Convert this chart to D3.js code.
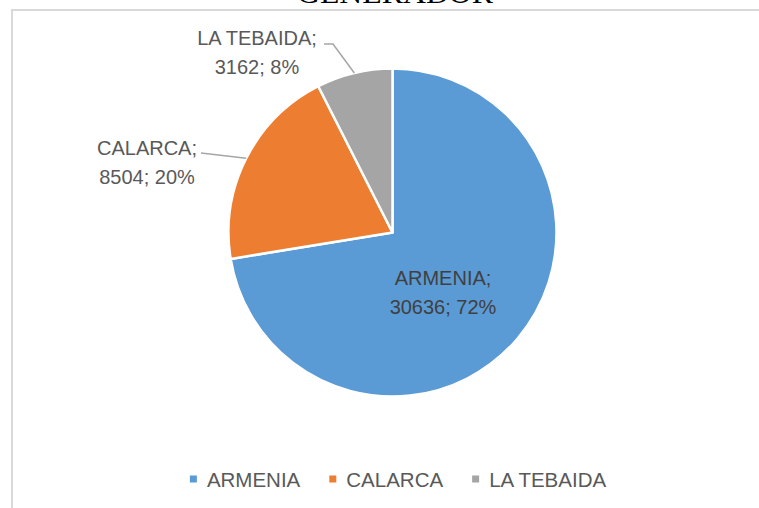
<!DOCTYPE html>
<html>
<head>
<meta charset="utf-8">
<script src="https://cdn.jsdelivr.net/npm/d3@7"></script>
<style>
  html, body { margin: 0; padding: 0; background: #ffffff; }
  svg { display: block; }
  text { font-family: "Liberation Sans", Arial, sans-serif; }
</style>
</head>
<body>
<svg id="chart" width="759" height="508"></svg>
<script>
// data
const categories = ['ARMENIA', 'CALARCA', 'LA TEBAIDA'];
const values = [30636, 8504, 3162];
const percentLabels = ['72%', '20%', '8%'];
const colors = ['#5B9BD5', '#ED7D31', '#A5A5A5'];
const title = 'GENERADOR';

const width = 759;
const height = 508;
const cx = 392.5;
const cy = 232.5;
const radius = 164;
const textColor = '#595959';

const svg = d3.select('#chart');

// frame of the chart area (clipped by the window on right/bottom)
svg.append('rect')
  .attr('x', 12)
  .attr('y', 10)
  .attr('width', 800)
  .attr('height', 600)
  .attr('fill', '#ffffff')
  .attr('stroke', '#D9D9D9')
  .attr('stroke-width', 2);

// title, mostly cut off above the window
svg.append('text')
  .attr('x', 395)
  .attr('y', 3)
  .attr('text-anchor', 'middle')
  .attr('textLength', 196)
  .attr('lengthAdjust', 'spacingAndGlyphs')
  .style('font-family', '"Liberation Serif", "Times New Roman", serif')
  .style('font-size', '30px')
  .attr('fill', '#000000')
  .text(title);

const data = categories.map((c, i) => ({ name: c, value: values[i], pct: percentLabels[i], color: colors[i] }));

const pie = d3.pie()
  .value(d => d.value)
  .sort(null);

const arcs = pie(data);

const arc = d3.arc()
  .innerRadius(0)
  .outerRadius(radius);

const g = svg.append('g')
  .attr('transform', `translate(${cx},${cy})`);

g.selectAll('path')
  .data(arcs)
  .enter()
  .append('path')
  .attr('d', arc)
  .attr('fill', d => d.data.color)
  .attr('stroke', '#ffffff')
  .attr('stroke-width', 2.5)
  .attr('stroke-linejoin', 'round');

// label placement (relative to pie centre); leader lines go to the outer edge at mid-angle
const labelLayout = [
  { x: 50.5, y: 52.5, leader: null },
  { x: -245.5, y: -77.5, leader: [[-191.5, -79.5]] },
  { x: -135.5, y: -187.5, leader: [[-59.5, -188.5], [-68.5, -188.5]] }
];

const edgeArc = d3.arc()
  .innerRadius(radius)
  .outerRadius(radius);

arcs.forEach((a, i) => {
  const lay = labelLayout[i];
  if (lay.leader) {
    const start = edgeArc.centroid(a);
    const pts = [start].concat(lay.leader);
    g.append('path')
      .attr('d', d3.line()(pts))
      .attr('fill', 'none')
      .attr('stroke', '#A6A6A6')
      .attr('stroke-width', 1.5);
  }
  const t = g.append('text')
    .attr('text-anchor', 'middle')
    .attr('fill', i === 0 ? '#404040' : textColor)
    .style('font-size', '20px');
  t.append('tspan')
    .attr('x', lay.x)
    .attr('y', lay.y)
    .text(a.data.name + ';');
  t.append('tspan')
    .attr('x', lay.x)
    .attr('y', lay.y + 29)
    .text(a.data.value + '; ' + a.data.pct);
});

// legend
const legend = svg.append('g');
let lx = 0;
data.forEach((d, i) => {
  const item = legend.append('g');
  item.append('rect')
    .attr('x', 0)
    .attr('y', -4)
    .attr('width', 7)
    .attr('height', 7)
    .attr('fill', d.color);
  const txt = item.append('text')
    .attr('x', 17)
    .attr('y', 7)
    .attr('fill', textColor)
    .style('font-size', '20.5px')
    .text(d.name);
  item.attr('transform', `translate(${lx},0)`);
  lx += 17 + txt.node().getComputedTextLength() + 29;
});
const legendWidth = lx - 29;
legend.attr('transform', `translate(${398 - legendWidth / 2},${479.5})`);
</script>
</body>
</html>
